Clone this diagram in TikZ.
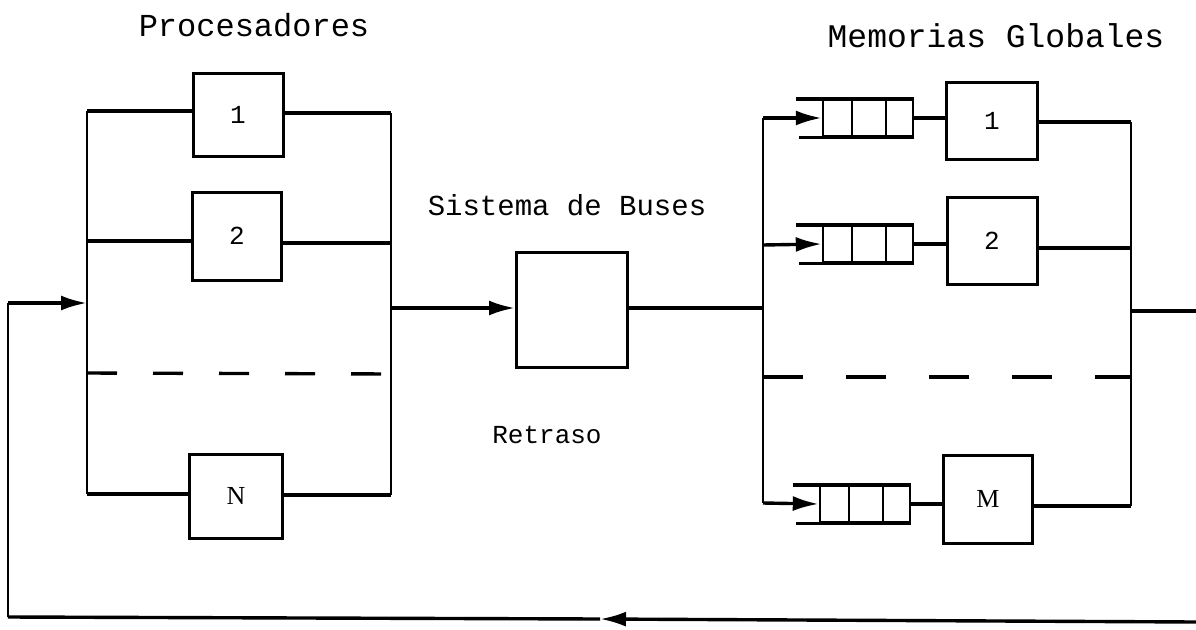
\documentclass[tikz,border=0pt]{standalone}
\usepackage{fontspec}
\newfontfamily\lmono{Liberation Mono}
\newfontfamily\lserif{Liberation Serif}
\usetikzlibrary{arrows.meta}
\begin{document}
\begin{tikzpicture}[x=1pt,y=-1pt,
  box/.style={draw,line width=3pt,inner sep=0pt,font=\lmono\fontsize{26}{26}\selectfont},
  cell/.style={draw,line width=2.4pt,inner sep=0pt,minimum width=90pt,minimum height=36pt},
  wire/.style={line width=3.4pt},
  bus/.style={line width=2.6pt},
  arr/.style={-{Latex[length=26pt,width=15pt]}},
  lbl/.style={font=\lmono\fontsize{28}{28}\selectfont,inner sep=0pt},
  dsh/.style={line width=3.4pt,dash pattern=on 30pt off 36pt}]
\useasboundingbox (0,0) rectangle (1196,629);

% labels
\node[lbl,font=\lmono\fontsize{32}{32}\selectfont] (tproc) at (254,25) {Procesadores};
\node[lbl,font=\lmono\fontsize{33}{33}\selectfont] (tmem) at (996,36) {Memorias Globales};
\node[lbl,font=\lmono\fontsize{29}{29}\selectfont] (tbus) at (567,205) {Sistema de Buses};
\node[lbl,font=\lmono\fontsize{26}{26}\selectfont] (tret) at (547,435) {Retraso};

% processors
\node[box,minimum width=90pt,minimum height=83pt] (p1) at (238,115) {1};
\node[box,minimum width=89pt,minimum height=88pt] (p2) at (237,236) {2};
\node[box,minimum width=93pt,minimum height=84pt,font=\lserif\fontsize{26}{26}\selectfont] (pN) at (236,496) {N};

\coordinate (pl1) at (87,111);
\coordinate (pl2) at (87,241);
\coordinate (plf) at (87,303);
\coordinate (pld) at (87,373);
\coordinate (plN) at (87,494);
\coordinate (pr1) at (391,113);
\coordinate (pr2) at (391,243);
\coordinate (prb) at (391,308);
\coordinate (prd) at (391,374);
\coordinate (prN) at (391,495);

\draw[bus] (pl1) -- (plN);
\draw[bus] (pr1) -- (prN);
\draw[wire] (pl1) -- (pl1 -| p1.west);
\draw[wire] (p1.east |- pr1) -- (pr1);
\draw[wire] (pl2) -- (pl2 -| p2.west);
\draw[wire] (p2.east |- pr2) -- (pr2);
\draw[wire] (plN) -- (plN -| pN.west);
\draw[wire] (pN.east |- prN) -- (prN);
\draw[dsh] (pld) -- (prd);

% bus system
\node[box,minimum width=111pt,minimum height=115pt] (bs) at (572,310) {};
\draw[wire,arr] (prb) -- (prb -| bs.west);
\coordinate (ml0) at (763,308);
\draw[wire] (bs.east |- ml0) -- (ml0);

% memories
\coordinate (ml1) at (763,118);
\coordinate (ml2) at (763,245);
\coordinate (mld) at (763,377);
\coordinate (mlM) at (763,503);
\coordinate (mr1) at (1131,122);
\coordinate (mr2) at (1131,248);
\coordinate (mro) at (1131,311);
\coordinate (mrd) at (1131,377);
\coordinate (mrM) at (1131,506);
\coordinate (outR) at (1196,311);

\node[cell] (q1) at (868,118) {};
\node[cell] (q2) at (868,244) {};
\node[cell] (qM) at (865,504) {};
\foreach \q in {q1,q2,qM}{
  \draw[line width=2.2pt] ([xshift=30pt]\q.north west) -- ([xshift=30pt]\q.south west);
  \draw[line width=2.2pt] ([xshift=64pt]\q.north west) -- ([xshift=64pt]\q.south west);
  \draw[wire] (\q.north east) -- ([xshift=-26pt]\q.north west);
  \draw[wire] (\q.south east) -- ([xshift=-23pt]\q.south west);
}

\node[box,minimum width=91pt,minimum height=77pt] (m1) at (992,121) {1};
\node[box,minimum width=90pt,minimum height=87pt] (m2) at (992,241) {2};
\node[box,minimum width=89pt,minimum height=88pt,font=\lserif\fontsize{26}{26}\selectfont] (mM) at (988,499) {M};

\draw[bus] (ml1) -- (mlM);
\draw[bus] (mr1) -- (mrM);
\draw[wire,arr] (ml1) -- (q1.west);
\draw[wire,arr] (ml2) -- (q2.west);
\draw[wire,arr] (mlM) -- (qM.west);
\draw[wire] (q1.east) -- (q1.east -| m1.west);
\draw[wire] (q2.east) -- (q2.east -| m2.west);
\draw[wire] (qM.east) -- (qM.east -| mM.west);
\draw[wire] (m1.east |- mr1) -- (mr1);
\draw[wire] (m2.east |- mr2) -- (mr2);
\draw[wire] (mM.east |- mrM) -- (mrM);
\draw[line width=3.4pt,dash pattern=on 40pt off 43pt] (mld) -- (mrd);
\draw[wire] (mro) -- (outR);

% feedback
\coordinate (fbR) at (1196,622);
\coordinate (fbM) at (600,619);
\coordinate (fbL) at (8,617);
\coordinate (fbT) at (8,303);
\draw[wire,arr] (fbR) -- (fbM);
\draw[wire] (fbM) -- (fbL);
\draw[bus] (fbL) -- (fbT);
\draw[wire,arr] (fbT) -- (plf);
\end{tikzpicture}
\end{document}
